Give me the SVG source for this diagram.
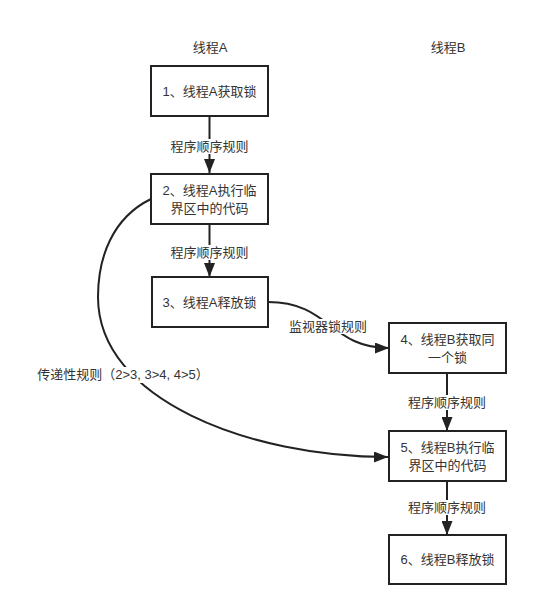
<svg xmlns="http://www.w3.org/2000/svg" width="533" height="609" viewBox="0 0 533 609">
<defs>
<marker id="ah" viewBox="0 0 14 11" refX="14" refY="5.5" markerWidth="14" markerHeight="11" markerUnits="userSpaceOnUse" orient="auto">
<path d="M0,0 L14,5.5 L0,11 Z" fill="#222"/>
</marker>
<style>
.box{fill:#fff;stroke:#222;stroke-width:2}
.t{font-family:"Liberation Sans","Noto Sans CJK SC",sans-serif;font-size:13px;fill:#333;text-anchor:middle}
.e{fill:none;stroke:#222;stroke-width:2}
.lbg{fill:#fff}
</style>
</defs>
<rect width="533" height="609" fill="#fff"/>
<text class="t" x="210" y="52">线程A</text>
<text class="t" x="448" y="52">线程B</text>
<g id="connectors">
<path class="e" d="M209.5,116 L209.5,173" marker-end="url(#ah)"/>
<path class="e" d="M209.5,224 L209.5,277" marker-end="url(#ah)"/>
<path class="e" d="M268,302 C330,302 330,348 389,348" marker-end="url(#ah)"/>
<path class="e" d="M447,373 L447,431" marker-end="url(#ah)"/>
<path class="e" d="M447,481 L447,535" marker-end="url(#ah)"/>
<path class="e" d="M151,199 C112,218 98,258 98,297 C98,400 250,457 388,457" marker-end="url(#ah)"/>
<rect class="lbg" x="171" y="139" width="77" height="15"/>
<text class="t" x="209.5" y="151">程序顺序规则</text>
<rect class="lbg" x="171" y="245" width="77" height="15"/>
<text class="t" x="209.5" y="257">程序顺序规则</text>
<rect class="lbg" x="290" y="319" width="77" height="15"/>
<text class="t" x="328" y="331">监视器锁规则</text>
<rect class="lbg" x="408" y="395" width="77" height="15"/>
<text class="t" x="447" y="407">程序顺序规则</text>
<rect class="lbg" x="408" y="500" width="77" height="15"/>
<text class="t" x="447" y="512">程序顺序规则</text>
<rect class="lbg" x="38" y="367" width="170" height="16"/>
<text class="t" x="123" y="379">传递性规则（2&gt;3, 3&gt;4, 4&gt;5）</text>
</g>
<g id="n1"><rect class="box" x="151" y="66" width="117" height="50"/><text class="t" x="209.5" y="96">1、线程A获取锁</text></g>
<g id="n2"><rect class="box" x="151" y="174" width="117" height="50"/><text class="t" x="209.5" y="195">2、线程A执行临</text><text class="t" x="209.5" y="213">界区中的代码</text></g>
<g id="n3"><rect class="box" x="152" y="277" width="116" height="50"/><text class="t" x="209.5" y="307">3、线程A释放锁</text></g>
<g id="n4"><rect class="box" x="389" y="323" width="117" height="50"/><text class="t" x="447.5" y="344">4、线程B获取同</text><text class="t" x="447.5" y="362">一个锁</text></g>
<g id="n5"><rect class="box" x="389" y="431" width="117" height="50"/><text class="t" x="447.5" y="452">5、线程B执行临</text><text class="t" x="447.5" y="470">界区中的代码</text></g>
<g id="n6"><rect class="box" x="389" y="535" width="117" height="49"/><text class="t" x="447.5" y="564">6、线程B释放锁</text></g>
</svg>
